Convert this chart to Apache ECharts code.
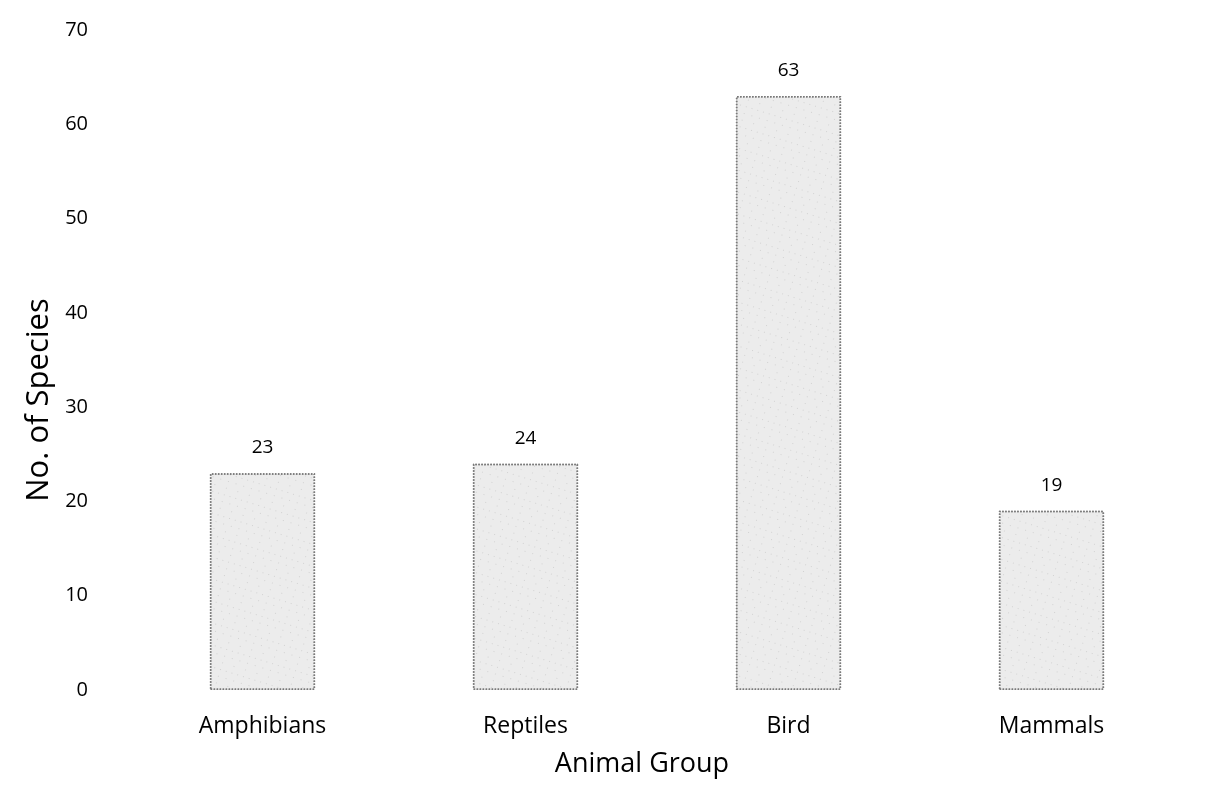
<!DOCTYPE html>
<html>
<head>
<meta charset="utf-8">
<script src="https://cdn.jsdelivr.net/npm/echarts@6/dist/echarts.min.js"></script>
<style>html,body{margin:0;padding:0;background:#fff}#c{width:1206px;height:812px}</style>
</head>
<body>
<div id="c"></div>
<script>
const categories = ['Amphibians', 'Reptiles', 'Bird', 'Mammals'];
const speciesCount = [23, 24, 63, 19];
const yTicks = [0, 10, 20, 30, 40, 50, 60, 70];

const chart = echarts.init(document.getElementById('c'));
const font = '"Open Sans", Lato, sans-serif';
chart.setOption({
  animation: false,
  backgroundColor: '#ffffff',
  grid: { left: 131, right: 23, top: 30, bottom: 122 },
  xAxis: {
    type: 'category',
    data: categories,
    name: 'Animal Group',
    nameLocation: 'middle',
    nameGap: 61,
    nameTextStyle: { fontSize: 27, color: '#000', fontFamily: font, padding: [0, 30, 0, 0] },
    axisLine: { show: false },
    axisTick: { show: false },
    axisLabel: { fontSize: 23, color: '#000', fontFamily: font, margin: 25 }
  },
  yAxis: {
    type: 'value',
    min: yTicks[0],
    max: yTicks[yTicks.length - 1],
    interval: 10,
    name: 'No. of Species',
    nameLocation: 'middle',
    nameGap: 66,
    nameTextStyle: { fontSize: 31, color: '#000', fontFamily: font, padding: [0, 80, 0, 0] },
    axisLine: { show: false },
    axisTick: { show: false },
    splitLine: { show: false },
    axisLabel: { fontSize: 20, color: '#000', fontFamily: font, margin: 43, align: 'right' }
  },
  series: [{
    type: 'bar',
    data: speciesCount,
    barWidth: '40%',
    itemStyle: {
      color: '#ececec',
      borderColor: '#7a7a7a',
      borderWidth: 1.5,
      borderType: 'dotted',
      decal: {
        symbol: 'rect',
        symbolSize: 0.4,
        color: 'rgba(30,30,30,0.6)',
        dashArrayX: [[1, 7], [1, 11], [1, 5]],
        dashArrayY: [1, 6],
        rotation: 0.3
      }
    },
    label: {
      show: true,
      position: 'top',
      distance: 16,
      fontSize: 19,
      color: '#000',
      fontFamily: font
    }
  }]
});
</script>
</body>
</html>
